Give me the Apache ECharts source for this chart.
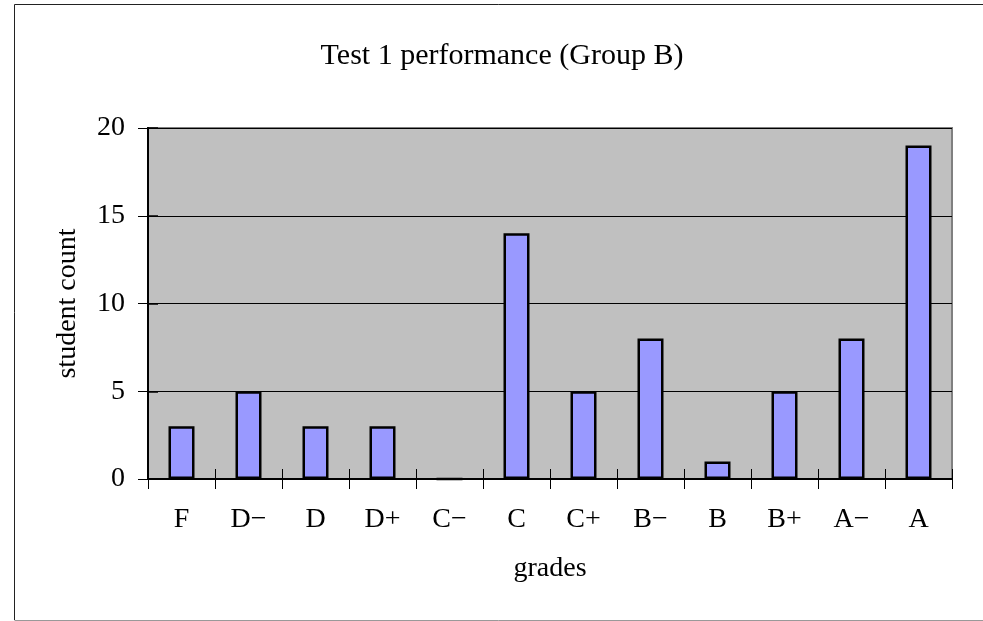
<!DOCTYPE html>
<html>
<head>
<meta charset="utf-8">
<script src="https://cdn.jsdelivr.net/npm/echarts@6/dist/echarts.min.js"></script>
<style>
  html, body { margin: 0; padding: 0; background: #fff; }
  #chart { width: 983px; height: 621px; }
</style>
</head>
<body>
<div id="chart"></div>
<script>
'use strict';

var grades = ['F', 'D\u2212', 'D', 'D+', 'C\u2212', 'C', 'C+', 'B\u2212', 'B', 'B+', 'A\u2212', 'A'];
var counts = [3, 5, 3, 3, 0, 14, 5, 8, 1, 5, 8, 19];
var yTicks = [0, 5, 10, 15, 20];

var FONT = '"Liberation Serif", "DejaVu Serif", serif';

var chart = echarts.init(document.getElementById('chart'));

var grid = { left: 148, right: 31, top: 128, bottom: 142 };

// second pair of axes sits on top of the first and draws the inner half of the crossing ticks
var axisLine = { show: true, onZero: false, lineStyle: { color: '#000', width: 2 } };
var tickStyle = { color: '#000', width: 1 };

chart.setOption({
  animation: false,
  backgroundColor: '#fff',
  title: {
    text: 'Test 1 performance (Group B)',
    left: 497, top: 36,
    textAlign: 'center',
    textStyle: { fontFamily: FONT, fontSize: 30, fontWeight: 'normal', color: '#000' }
  },
  graphic: [
    { type: 'line', shape: { x1: 14.5, y1: 4.5, x2: 983, y2: 4.5 }, style: { stroke: '#222', lineWidth: 1 } },
    { type: 'line', shape: { x1: 14.5, y1: 4.5, x2: 14.5, y2: 620 }, style: { stroke: '#222', lineWidth: 1 } },
    { type: 'line', shape: { x1: 14.5, y1: 620.5, x2: 983, y2: 620.5 }, style: { stroke: '#999', lineWidth: 1 } }
  ],
  grid: {
    left: grid.left, right: grid.right, top: grid.top, bottom: grid.bottom,
    show: true, backgroundColor: '#c0c0c0', borderColor: '#808080', borderWidth: 2
  },
  xAxis: [{
    type: 'category',
    data: grades,
    name: 'grades',
    nameLocation: 'middle',
    nameGap: 76,
    nameTextStyle: { fontFamily: FONT, fontSize: 28, color: '#000' },
    axisLine: axisLine,
    axisTick: { show: true, length: 10, lineStyle: tickStyle },
    axisLabel: { margin: 27, fontFamily: FONT, fontSize: 28, color: '#000' },
    splitLine: { show: false }
  }, {
    type: 'category',
    data: grades,
    position: 'bottom',
    axisLine: axisLine,
    axisTick: { show: true, inside: true, length: 10, lineStyle: tickStyle },
    axisLabel: { show: false },
    splitLine: { show: false }
  }],
  yAxis: [{
    type: 'value',
    min: 0, max: 20, interval: 5,
    name: 'student count',
    nameLocation: 'middle',
    nameGap: 66,
    nameRotate: 90,
    nameTextStyle: { fontFamily: FONT, fontSize: 28, color: '#000' },
    axisLine: axisLine,
    axisTick: { show: true, length: 10, lineStyle: tickStyle },
    axisLabel: {
      margin: 23, fontFamily: FONT, fontSize: 28, color: '#000',
      formatter: function (v) { return yTicks.indexOf(v) >= 0 ? String(v) : ''; }
    },
    splitLine: { show: true, lineStyle: { color: '#000', width: 1 } }
  }, {
    type: 'value',
    min: 0, max: 20, interval: 5,
    position: 'left',
    axisLine: axisLine,
    axisTick: { show: true, inside: true, length: 10, lineStyle: { color: '#000', width: 1.5 } },
    axisLabel: { show: false },
    splitLine: { show: false }
  }],
  series: [{
    type: 'bar',
    data: counts,
    barWidth: 26,
    itemStyle: { color: '#9999ff', borderColor: '#000', borderWidth: 2.5 }
  }, {
    // invisible, only binds the tick axes so they get drawn
    type: 'line',
    xAxisIndex: 1,
    yAxisIndex: 1,
    data: counts,
    showSymbol: false,
    silent: true,
    lineStyle: { opacity: 0 }
  }]
});
</script>
</body>
</html>
